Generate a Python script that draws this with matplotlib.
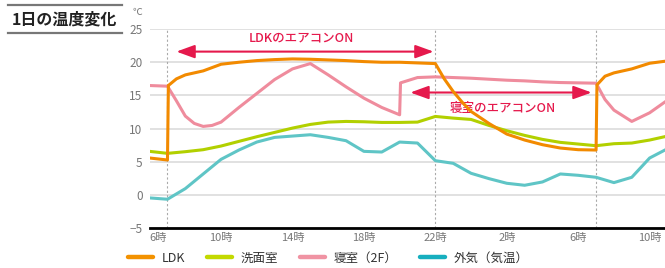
import matplotlib
matplotlib.use("Agg")
import matplotlib.pyplot as plt
from matplotlib.lines import Line2D

plt.rcParams['font.family'] = ['Noto Sans CJK JP', 'DejaVu Sans']

# hours counted from 6:00 on day one
tick_hours = [0, 4, 8, 12, 16, 20, 24, 28]
tick_labels = ['6時', '10時', '14時', '18時', '22時', '2時', '6時', '10時']
marker_hours = [1, 16, 25]   # dotted lines: 7時, 22時, 7時

hours = list(range(30))

outside = [-0.4, -0.6, 1.0, 3.2, 5.4, 6.8, 8.0, 8.7, 8.9, 9.1,
           8.7, 8.2, 6.6, 6.5, 8.0, 7.85, 5.2, 4.8, 3.3, 2.5,
           1.8, 1.5, 2.0, 3.2, 3.0, 2.7, 1.9, 2.7, 5.6, 7.0]

washroom = [6.6, 6.3, 6.55, 6.85, 7.4, 8.1, 8.8, 9.45, 10.1, 10.65,
            11.0, 11.1, 11.05, 10.95, 10.95, 11.0, 11.85, 11.6, 11.4, 10.5,
            9.7, 9.0, 8.4, 7.95, 7.7, 7.45, 7.75, 7.85, 8.3, 8.9]

ldk_hours = [0, 1, 1.05, 1.5, 2, 3, 4, 5, 6, 7, 8, 9, 10, 11, 12, 13, 14, 15, 16,
             16.5, 17, 17.5, 18, 19, 20, 21, 22, 23, 24, 25, 25.05, 25.5, 26, 27, 28, 29]
ldk = [5.6, 5.3, 16.5, 17.5, 18.1, 18.7, 19.7, 20.0, 20.25, 20.4, 20.5, 20.45, 20.35,
       20.25, 20.1, 20.0, 20.0, 19.9, 19.8,
       17.5, 15.6, 14.0, 12.6, 10.8, 9.2, 8.3, 7.6, 7.1, 6.85, 6.8, 16.6, 17.9, 18.4, 19.0, 19.85, 20.2]

bed_hours = [0, 1, 1.5, 2, 2.5, 3, 3.5, 4, 5, 6, 7, 8, 9, 10, 11, 12, 13, 14, 14.05,
             15, 16, 17, 18, 19, 20, 21, 22, 23, 24, 25, 25.5, 26, 27, 28, 29]
bedroom = [16.5, 16.4, 14.2, 11.9, 10.8, 10.35, 10.5, 11.0, 13.2, 15.3, 17.4, 19.0, 19.8,
           18.1, 16.3, 14.6, 13.2, 12.1, 16.9,
           17.7, 17.8, 17.7, 17.6, 17.45, 17.3, 17.2, 17.05, 16.95, 16.9, 16.85, 14.4, 12.8,
           11.1, 12.4, 14.3]

names = ['LDK', '洗面室', '寝室（2F）', '外気（気温）']
line_colors = ['#f28a00', '#b2d000', '#ef8c9d', '#5fc5c6']
legend_colors = ['#f39200', '#c3d900', '#f093a3', '#17afbf']
accent = '#e5194c'

fig = plt.figure(figsize=(6.65, 2.68), dpi=100)
ax = fig.add_axes([0.225, 0.1474, 0.775, 0.7444])

ax.set_ylim(-5, 25)
ax.set_xlim(0, 28.86)
ax.set_yticks(range(-5, 26, 5))
ax.yaxis.grid(True, color='#dedede', lw=1.3)
ax.set_axisbelow(True)
for s in ['top', 'right', 'left']:
    ax.spines[s].set_visible(False)
ax.spines['bottom'].set_color('black')
ax.spines['bottom'].set_linewidth(2)
ax.tick_params(axis='both', length=0, colors='#777777', labelsize=8.5)
ax.tick_params(axis='y', pad=5)
ax.tick_params(axis='x', pad=3, labelsize=8)
ax.set_xticks(tick_hours)
ax.set_xticklabels(tick_labels)
ax.get_xticklabels()[0].set_ha('left')

for h in marker_hours:
    ax.axvline(h, color='#aaaaaa', lw=0.8, ls=(0, (2, 2)), zorder=1)

ax.plot(hours, outside, color=line_colors[3], lw=2.2, zorder=3)
ax.plot(hours, washroom, color=line_colors[1], lw=2.2, zorder=3)
ax.plot(bed_hours, bedroom, color=line_colors[2], lw=2.2, zorder=3)
ax.plot(ldk_hours, ldk, color=line_colors[0], lw=2.2, zorder=4)

# aircon annotations
ax.annotate('', xy=(1.5, 21.6), xytext=(15.9, 21.6),
            arrowprops=dict(arrowstyle='<|-|>,head_length=1.1,head_width=0.4',
                            color=accent, lw=1.5, mutation_scale=10,
                            shrinkA=0, shrinkB=0))
ax.text(8.5, 23.7, 'LDKのエアコンON', color=accent, fontsize=9,
        ha='center', va='center', fontweight='medium')
ax.annotate('', xy=(14.6, 15.45), xytext=(24.75, 15.45),
            arrowprops=dict(arrowstyle='<|-|>,head_length=1.1,head_width=0.4',
                            color=accent, lw=1.5, mutation_scale=10,
                            shrinkA=0, shrinkB=0))
ax.text(19.8, 13.1, '寝室のエアコンON', color=accent, fontsize=9,
        ha='center', va='center', fontweight='medium')

fig.text(137 / 665, 1 - 12 / 268, '℃', color='#777777', fontsize=7,
         ha='center', va='center')

# title block
fig.text(64 / 665, 1 - 19 / 268, '1日の温度変化', fontsize=11.5,
         fontweight='bold', ha='center', va='center', color='#222222')
for yy in [5, 33]:
    fig.add_artist(Line2D([8 / 665, 122 / 665], [1 - yy / 268, 1 - yy / 268],
                          color='#777777', lw=1.6))

handles = [Line2D([], [], color=c, lw=3.2, solid_capstyle='round')
           for c in legend_colors]
fig.legend(handles, names, loc='center left', bbox_to_anchor=(128 / 665, 1 - 258 / 268),
           ncol=4, frameon=False, fontsize=9, handlelength=2.0, handletextpad=0.7,
           columnspacing=1.75, borderpad=0, borderaxespad=0, labelcolor='#333333')

fig.savefig('out.png', dpi=100)
